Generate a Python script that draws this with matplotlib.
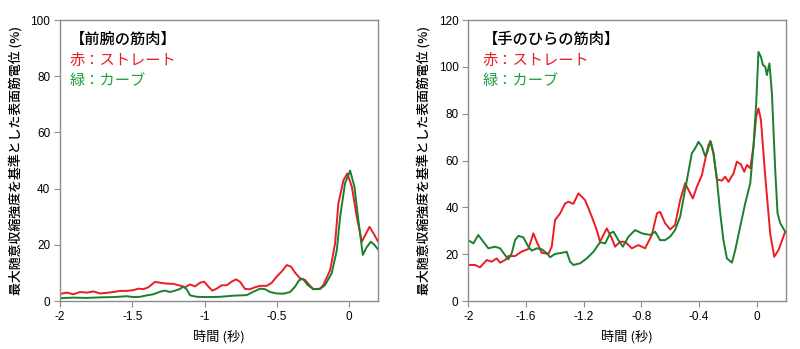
import numpy
from matplotlib import pyplot as plt

plt.rcParams['font.family'] = ['Liberation Sans', 'Noto Sans CJK JP', 'DejaVu Sans']
plt.rcParams['axes.unicode_minus'] = False

# left panel: forearm muscle
fore_red_t = [-2.000, -1.954, -1.908, -1.862, -1.815, -1.769, -1.723, -1.677, -1.631, -1.585,
              -1.539, -1.492, -1.458, -1.423, -1.389, -1.343, -1.308, -1.262, -1.216, -1.170,
              -1.135, -1.100, -1.066, -1.031, -1.003, -0.973, -0.946, -0.916, -0.881, -0.847,
              -0.812, -0.782, -0.754, -0.720, -0.685, -0.651, -0.616, -0.570, -0.535, -0.501,
              -0.466, -0.431, -0.401, -0.374, -0.339, -0.305, -0.270, -0.247, -0.201, -0.178,
              -0.131, -0.097, -0.074, -0.039, -0.012, 0.019, 0.053, 0.088, 0.141, 0.170, 0.200]
fore_red_v = [2.5, 3.0, 2.4, 3.2, 3.0, 3.4, 2.7, 2.9, 3.2, 3.6,
              3.6, 3.9, 4.4, 4.2, 4.9, 6.8, 6.5, 6.2, 6.1, 5.5,
              4.9, 5.9, 5.2, 6.5, 6.9, 5.1, 3.7, 4.4, 5.6, 5.6,
              6.9, 7.7, 6.8, 4.3, 4.2, 4.9, 5.4, 5.4, 6.5, 8.7,
              10.5, 12.8, 12.2, 10.1, 8.1, 7.5, 5.4, 4.2, 4.4, 5.7,
              11.0, 20.5, 34.8, 43.0, 45.4, 40.7, 30.0, 21.1, 26.4, 24.0, 21.2]
fore_grn_t = [-2.000, -1.908, -1.815, -1.723, -1.631, -1.539, -1.492, -1.446, -1.400, -1.354,
              -1.308, -1.274, -1.239, -1.204, -1.170, -1.147, -1.124, -1.100, -1.054, -0.985,
              -0.893, -0.800, -0.708, -0.662, -0.616, -0.581, -0.547, -0.501, -0.454, -0.408,
              -0.374, -0.345, -0.318, -0.287, -0.247, -0.201, -0.166, -0.120, -0.085, -0.062,
              -0.028, 0.007, 0.037, 0.064, 0.095, 0.120, 0.150, 0.175, 0.200]
fore_grn_v = [1.0, 1.2, 1.1, 1.3, 1.4, 1.7, 1.4, 1.5, 2.0, 2.4,
              3.3, 3.7, 3.2, 3.7, 4.3, 5.1, 4.2, 2.0, 1.5, 1.4,
              1.5, 1.9, 2.1, 3.3, 4.4, 4.2, 3.2, 2.7, 2.6, 3.2,
              5.1, 7.5, 7.8, 5.7, 4.2, 4.3, 5.7, 9.9, 18.1, 30.0,
              41.9, 46.4, 40.7, 28.8, 16.4, 19.0, 21.1, 20.0, 18.4]

# right panel: palm muscle
palm_red_t = [-2.000, -1.954, -1.919, -1.872, -1.838, -1.803, -1.780, -1.745, -1.723, -1.676,
              -1.630, -1.584, -1.549, -1.526, -1.491, -1.445, -1.422, -1.399, -1.364, -1.329,
              -1.306, -1.272, -1.237, -1.191, -1.144, -1.110, -1.087, -1.064, -1.040, -1.006,
              -0.983, -0.948, -0.913, -0.867, -0.821, -0.775, -0.728, -0.693, -0.671, -0.636,
              -0.601, -0.567, -0.532, -0.497, -0.474, -0.444, -0.416, -0.381, -0.359, -0.336,
              -0.319, -0.301, -0.277, -0.243, -0.220, -0.197, -0.162, -0.139, -0.111, -0.088,
              -0.069, -0.046, -0.024, -0.005, 0.011, 0.028, 0.058, 0.092, 0.120, 0.150, 0.196]
palm_red_v = [15.4, 15.4, 14.4, 17.5, 16.8, 18.2, 16.4, 17.5, 19.2, 19.2,
              21.1, 22.2, 28.9, 25.3, 20.6, 20.1, 23.2, 34.6, 37.4, 41.7,
              42.4, 41.5, 46.0, 43.1, 36.0, 30.3, 25.3, 28.2, 31.0, 26.8,
              23.2, 25.3, 25.3, 22.5, 23.9, 22.5, 28.2, 37.4, 38.1, 33.2,
              30.6, 32.5, 43.1, 50.3, 47.4, 43.8, 48.8, 53.8, 60.2, 66.6,
              68.0, 63.1, 52.0, 51.4, 53.1, 50.9, 54.5, 59.5, 58.4, 55.2,
              58.1, 56.7, 65.9, 78.7, 82.3, 77.3, 53.1, 28.9, 18.9, 21.8, 29.6]
palm_grn_t = [-2.000, -1.965, -1.931, -1.896, -1.861, -1.815, -1.780, -1.745, -1.723, -1.699,
              -1.676, -1.653, -1.619, -1.584, -1.560, -1.526, -1.491, -1.456, -1.433, -1.399,
              -1.352, -1.318, -1.295, -1.272, -1.225, -1.179, -1.133, -1.087, -1.052, -1.017,
              -0.994, -0.960, -0.929, -0.890, -0.844, -0.797, -0.740, -0.705, -0.671, -0.636,
              -0.601, -0.567, -0.532, -0.485, -0.451, -0.428, -0.405, -0.381, -0.359, -0.343,
              -0.324, -0.301, -0.277, -0.254, -0.232, -0.208, -0.173, -0.150, -0.116, -0.081,
              -0.046, -0.024, -0.005, 0.011, 0.028, 0.042, 0.058, 0.069, 0.087, 0.104,
              0.127, 0.143, 0.162, 0.196]
palm_grn_v = [26.0, 24.6, 28.2, 25.3, 22.5, 23.2, 22.5, 19.6, 17.8, 20.4,
              26.0, 27.8, 27.2, 23.2, 21.5, 22.5, 22.1, 20.4, 18.7, 20.1,
              20.6, 21.0, 16.8, 15.4, 16.1, 18.2, 21.0, 25.1, 24.6, 28.9,
              29.6, 26.0, 23.2, 27.5, 30.3, 28.9, 28.2, 29.6, 26.0, 26.0,
              27.5, 30.3, 36.0, 51.7, 63.1, 65.2, 68.0, 65.9, 61.9, 63.7,
              68.4, 63.1, 51.7, 37.4, 26.0, 18.2, 16.4, 21.8, 31.7, 41.7,
              50.3, 65.9, 84.4, 106.4, 104.3, 100.8, 100.0, 96.5, 101.5, 88.7,
              55.9, 37.4, 33.2, 29.6]

fore_xticks = [-2, -1.5, -1, -0.5, 0]
fore_xlabels = ['-2', '-1.5', '-1', '-0.5', '0']
palm_xticks = [-2, -1.6, -1.2, -0.8, -0.4, 0]
palm_xlabels = ['-2', '-1.6', '-1.2', '-0.8', '-0.4', '0']

RED = '#ec1c24'
GREEN = '#1a7f2e'
GREEN_TXT = '#22a045'
GREY = '#8c8c8c'
CJK = ['Noto Sans CJK JP', 'DejaVu Sans']

fig = plt.figure(figsize=(8, 3.49), dpi=100)
axl = fig.add_axes([0.075, 0.1375, 0.3975, 0.805])
axr = fig.add_axes([0.5854, 0.1375, 0.3968, 0.805])


def setup(ax, ymax, xticks, xlabels, title, tx):
    ax.set_xlim(-2, 0.2)
    ax.set_ylim(0, ymax)
    ax.set_xticks(xticks)
    ax.set_xticklabels(xlabels)
    ax.set_yticks(numpy.arange(0, ymax + 1, 20))
    for s in ax.spines.values():
        s.set_color(GREY)
        s.set_linewidth(1.0)
    ax.tick_params(direction='out', length=4, color=GREY, labelsize=8.5, pad=3)
    ax.set_xlabel('時間 (秒)', family=CJK, fontsize=9.5, labelpad=5)
    ax.set_ylabel('最大随意収縮強度を基準とした表面筋電位 (%)', family=CJK, fontsize=9.3,
                  weight='medium', labelpad=6)
    ax.text(tx, 0.93, title, transform=ax.transAxes, family=CJK, fontsize=11,
            weight='medium', color='black', va='center')
    ax.text(tx, 0.855, '赤：ストレート', transform=ax.transAxes, family=CJK, fontsize=11,
            color=RED, va='center')
    ax.text(tx, 0.785, '緑：カーブ', transform=ax.transAxes, family=CJK, fontsize=11,
            color=GREEN_TXT, va='center')


axl.plot(fore_red_t, fore_red_v, color=RED, lw=1.4)
axl.plot(fore_grn_t, fore_grn_v, color=GREEN, lw=1.4)
setup(axl, 100, fore_xticks, fore_xlabels, '【前腕の筋肉】', 0.03)

axr.plot(palm_red_t, palm_red_v, color=RED, lw=1.4)
axr.plot(palm_grn_t, palm_grn_v, color=GREEN, lw=1.4)
setup(axr, 120, palm_xticks, palm_xlabels, '【手のひらの筋肉】', 0.045)

fig.savefig('out.png', dpi=100)
